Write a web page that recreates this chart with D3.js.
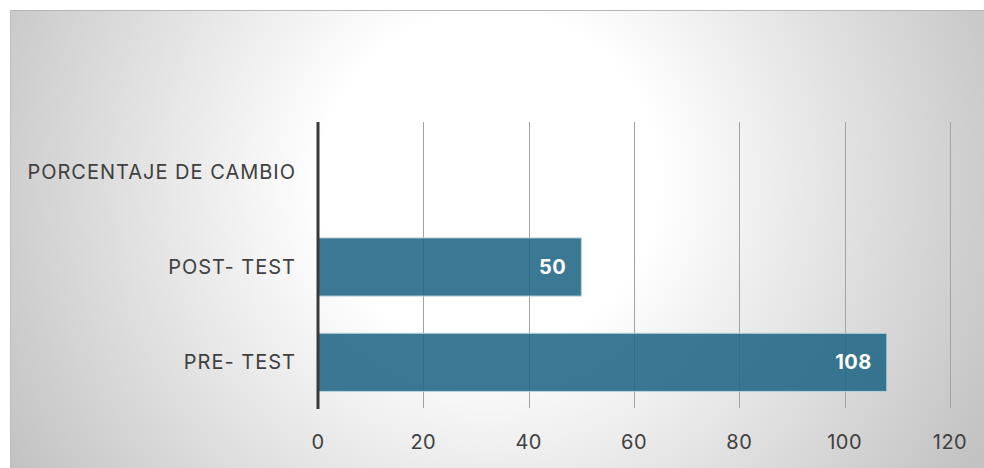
<!DOCTYPE html>
<html>
<head>
<meta charset="utf-8">
<script src="https://cdn.jsdelivr.net/npm/d3@7"></script>
<style>
  html, body { margin: 0; padding: 0; background: #ffffff; }
  svg { display: block; font-family: Inter, Roboto, "Noto Sans", sans-serif; }
</style>
</head>
<body>
<svg id="chart" width="984" height="468"></svg>
<script>
const categories = ["PORCENTAJE DE CAMBIO", "POST- TEST", "PRE- TEST"];
const values = [null, 50, 108];
const xTicks = [0, 20, 40, 60, 80, 100, 120];

const W = 984, H = 468;
const svg = d3.select("#chart");

// background panel with radial gradient
const defs = svg.append("defs");
const grad = defs.append("radialGradient")
  .attr("id", "bg").attr("gradientUnits", "userSpaceOnUse")
  .attr("cx", 490).attr("cy", 180).attr("r", 560);
grad.append("stop").attr("offset", 0).attr("stop-color", "#ffffff");
grad.append("stop").attr("offset", 0.3).attr("stop-color", "#ffffff");
grad.append("stop").attr("offset", 1).attr("stop-color", "#c2c2c2");

svg.append("rect").attr("x", 10).attr("y", 10).attr("width", W - 10).attr("height", H - 10)
  .attr("fill", "url(#bg)");
svg.append("line").attr("x1", 10).attr("x2", W).attr("y1", 10.5).attr("y2", 10.5)
  .attr("stroke", "#b8b8b8").attr("stroke-width", 1);
svg.append("line").attr("x1", 10.5).attr("x2", 10.5).attr("y1", 10).attr("y2", H)
  .attr("stroke", "#bdbdbd").attr("stroke-width", 1);

const x = d3.scaleLinear().domain([0, 120]).range([318, 950]);
const y = d3.scaleBand().domain(categories).range([124, 410]).paddingInner(0.39).paddingOuter(0.195);

const plotTop = 122, plotBottom = 408;

// gridlines
svg.append("g").selectAll("line").data(xTicks.filter(d => d > 0)).join("line")
  .attr("x1", d => Math.round(x(d)) + 0.5).attr("x2", d => Math.round(x(d)) + 0.5)
  .attr("y1", plotTop).attr("y2", plotBottom)
  .attr("stroke", "#a3a3a3").attr("stroke-width", 1);

// bars
const data = categories.map((c, i) => ({ c, v: values[i] })).filter(d => d.v != null);
svg.append("g").selectAll("rect").data(data).join("rect")
  .attr("x", x(0)).attr("y", d => y(d.c))
  .attr("width", d => x(d.v) - x(0)).attr("height", y.bandwidth())
  .attr("fill", "#1f6584").attr("fill-opacity", 0.88)
  .attr("stroke", "#b9d3de").attr("stroke-width", 1);

// value labels
svg.append("g").selectAll("text").data(data).join("text")
  .attr("x", d => x(d.v) - 15).attr("y", d => y(d.c) + y.bandwidth() / 2)
  .attr("text-anchor", "end").attr("dominant-baseline", "central")
  .attr("fill", "#ffffff").attr("font-weight", "bold").attr("font-size", 20)
  .attr("letter-spacing", 0.5)
  .text(d => d.v);

// axis line
svg.append("line").attr("x1", x(0)).attr("x2", x(0)).attr("y1", plotTop).attr("y2", plotBottom + 1)
  .attr("stroke", "#3a3a3a").attr("stroke-width", 3);

// category labels
svg.append("g").selectAll("text").data(categories).join("text")
  .attr("x", 296).attr("y", d => y(d) + y.bandwidth() / 2)
  .attr("text-anchor", "end").attr("dominant-baseline", "central")
  .attr("fill", "#404040").attr("font-size", 20).attr("letter-spacing", 1)
  .text(d => d);

// x tick labels
svg.append("g").selectAll("text").data(xTicks).join("text")
  .attr("x", d => x(d)).attr("y", 442)
  .attr("text-anchor", "middle").attr("dominant-baseline", "central")
  .attr("fill", "#404040").attr("font-size", 20).attr("letter-spacing", 0.5)
  .text(d => d);
</script>
</body>
</html>
